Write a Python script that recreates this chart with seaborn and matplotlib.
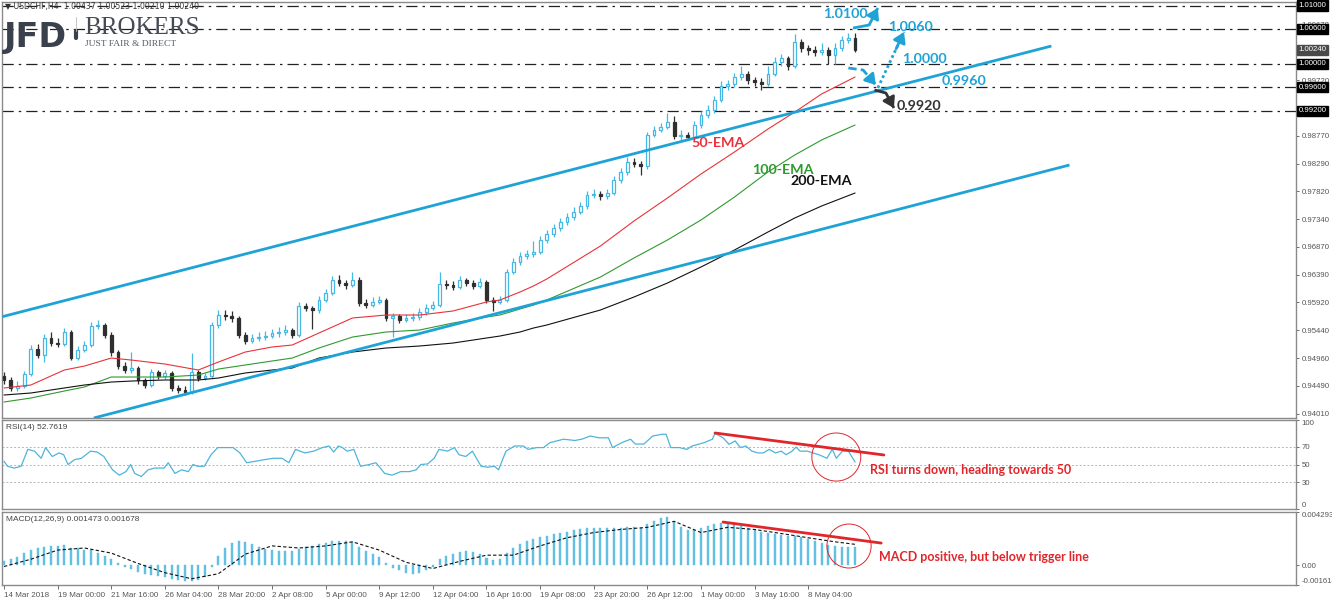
import numpy as np
import pandas as pd
import matplotlib
matplotlib.use("Agg")
import matplotlib.pyplot as plt
import seaborn as sns
from matplotlib.patches import Ellipse
from matplotlib.lines import Line2D

sns.set_theme(style="white")
plt.rcParams['font.family'] = ['Liberation Sans', 'DejaVu Sans']

W, H = 1332, 607
def fx(px):
    return px / W
def fy(py):
    return 1 - py / H

# ------------------------------------------------------------------ data
x_tick_pos = [0, 8, 16, 24, 32, 40, 48, 56, 64, 72, 80, 88, 96, 104, 112, 120]
x_tick_labels = ["14 Mar 2018", "19 Mar 00:00", "21 Mar 16:00", "26 Mar 04:00",
                 "28 Mar 20:00", "2 Apr 08:00", "5 Apr 00:00", "9 Apr 12:00",
                 "12 Apr 04:00", "16 Apr 16:00", "19 Apr 08:00", "23 Apr 20:00",
                 "26 Apr 12:00", "1 May 00:00", "3 May 16:00", "8 May 04:00"]

first_open = 0.94650
closes = [0.94585, 0.94448, 0.94482, 0.94687, 0.95116, 0.95013, 0.95304, 0.95218, 0.95200, 0.95407,
          0.94960, 0.95100, 0.95184, 0.95510, 0.95527, 0.95355, 0.95064, 0.94824, 0.94756, 0.94790,
          0.94585, 0.94499, 0.94722, 0.94653, 0.94700, 0.94448, 0.94413, 0.94379, 0.94722, 0.94619,
          0.94653, 0.95527, 0.95698, 0.95681, 0.95647, 0.95355, 0.95253, 0.95304, 0.95321, 0.95338,
          0.95390, 0.95407, 0.95441, 0.95355, 0.95852, 0.95818, 0.95784, 0.95955, 0.96075, 0.96298,
          0.96250, 0.96212, 0.96300, 0.95900, 0.95869, 0.95921, 0.95955, 0.95647, 0.95680, 0.95612,
          0.95647, 0.95664, 0.95749, 0.95818, 0.95869, 0.96229, 0.96212, 0.96180, 0.96298, 0.96246,
          0.96195, 0.96263, 0.95955, 0.95920, 0.95955, 0.96435, 0.96606, 0.96709, 0.96743, 0.96777,
          0.96983, 0.97086, 0.97188, 0.97291, 0.97377, 0.97462, 0.97565, 0.97754, 0.97771, 0.97737,
          0.97788, 0.98011, 0.98148, 0.98319, 0.98285, 0.98250, 0.98781, 0.98867, 0.98918, 0.99004,
          0.98764, 0.98790, 0.98747, 0.98953, 0.99124, 0.99210, 0.99381, 0.99621, 0.99655, 0.99775,
          0.99826, 0.99724, 0.99689, 0.99660, 0.99826, 1.00032, 1.00100, 0.99963, 1.00375, 1.00272,
          1.00237, 1.00203, 1.00237, 1.00152, 1.00272, 1.00409, 1.00437, 1.00240]
highs = [0.94720, 0.94640, 0.94560, 0.94740, 0.95180, 0.95200, 0.95380, 0.95400, 0.95300, 0.95480,
         0.95440, 0.95160, 0.95260, 0.95580, 0.95620, 0.95560, 0.95400, 0.95100, 0.94900, 0.95060,
         0.94830, 0.94620, 0.94780, 0.94760, 0.94760, 0.94740, 0.94500, 0.94480, 0.95040, 0.94760,
         0.94700, 0.95580, 0.95780, 0.95790, 0.95760, 0.95680, 0.95400, 0.95380, 0.95400, 0.95420,
         0.95460, 0.95490, 0.95520, 0.95480, 0.95920, 0.95900, 0.95860, 0.96020, 0.96140, 0.96360,
         0.96380, 0.96300, 0.96440, 0.96350, 0.95980, 0.96000, 0.96020, 0.95990, 0.95740, 0.95720,
         0.95720, 0.95730, 0.95820, 0.95880, 0.95940, 0.96440, 0.96300, 0.96280, 0.96360, 0.96340,
         0.96300, 0.96330, 0.96300, 0.96000, 0.96020, 0.96480, 0.96680, 0.96780, 0.96820, 0.96960,
         0.97050, 0.97160, 0.97260, 0.97360, 0.97440, 0.97540, 0.97640, 0.97820, 0.97850, 0.97820,
         0.97860, 0.98080, 0.98220, 0.98400, 0.98380, 0.98340, 0.98840, 0.98940, 0.98990, 0.99160,
         0.99100, 0.98860, 0.98840, 0.99020, 0.99190, 0.99300, 0.99450, 0.99700, 0.99730, 0.99850,
         0.99960, 0.99880, 0.99780, 0.99760, 0.99960, 1.00120, 1.00170, 1.00140, 1.00520, 1.00420,
         1.00330, 1.00300, 1.00360, 1.00290, 1.00350, 1.00470, 1.00530, 1.00523]
lows = [0.94520, 0.94400, 0.94390, 0.94450, 0.94650, 0.94960, 0.94900, 0.95170, 0.95150, 0.95160,
        0.94920, 0.94920, 0.95060, 0.95150, 0.95450, 0.95300, 0.95000, 0.94780, 0.94700, 0.94700,
        0.94520, 0.94450, 0.94460, 0.94600, 0.94610, 0.94400, 0.94370, 0.94330, 0.94350, 0.94570,
        0.94580, 0.94620, 0.95480, 0.95620, 0.95580, 0.95300, 0.95200, 0.95220, 0.95250, 0.95270,
        0.95300, 0.95330, 0.95360, 0.95300, 0.95320, 0.95760, 0.95460, 0.95740, 0.95920, 0.96040,
        0.96200, 0.96150, 0.96180, 0.95860, 0.95820, 0.95840, 0.95880, 0.95600, 0.95330, 0.95560,
        0.95580, 0.95600, 0.95620, 0.95700, 0.95780, 0.95840, 0.96150, 0.96130, 0.96150, 0.96190,
        0.96140, 0.96160, 0.95900, 0.95760, 0.95880, 0.95920, 0.96400, 0.96560, 0.96660, 0.96700,
        0.96740, 0.96940, 0.97040, 0.97140, 0.97240, 0.97320, 0.97420, 0.97520, 0.97700, 0.97660,
        0.97690, 0.97750, 0.97960, 0.98100, 0.98230, 0.98100, 0.98200, 0.98740, 0.98830, 0.98880,
        0.98720, 0.98700, 0.98700, 0.98710, 0.98900, 0.99080, 0.99160, 0.99340, 0.99560, 0.99610,
        0.99730, 0.99650, 0.99620, 0.99560, 0.99620, 0.99790, 0.99960, 0.99900, 0.99930, 1.00210,
        1.00150, 1.00130, 1.00150, 1.00000, 1.00000, 1.00220, 1.00360, 1.00210]
opens = [first_open] + closes[:-1]

ema_idx = [0, 4, 9, 12, 16, 19, 24, 29, 32, 36, 40, 43, 47, 52, 57, 62, 67, 72, 74, 77,
           79, 81, 89, 94, 99, 104, 109, 114, 118, 122, 127]
ema50 = [0.94448, 0.94499, 0.94756, 0.94824, 0.94961, 0.94927, 0.94859, 0.94756, 0.94893, 0.95064,
         0.95150, 0.95184, 0.95390, 0.95647, 0.95698, 0.95698, 0.95767, 0.95921, 0.95955, 0.96092,
         0.96195, 0.96315, 0.96880, 0.97308, 0.97702, 0.98113, 0.98490, 0.98884, 0.99175, 0.99484,
         0.99775]
ema100 = [0.94208, 0.94276, 0.94396, 0.94465, 0.94636, 0.94636, 0.94636, 0.94670, 0.94773, 0.94842,
          0.94910, 0.94961, 0.95133, 0.95321, 0.95407, 0.95441, 0.95561, 0.95664, 0.95698, 0.95801,
          0.95869, 0.95955, 0.96349, 0.96674, 0.96983, 0.97325, 0.97719, 0.98148, 0.98439, 0.98696,
          0.98953]
ema200 = [0.94328, 0.94362, 0.94448, 0.94499, 0.94550, 0.94567, 0.94585, 0.94585, 0.94619, 0.94705,
          0.94756, 0.94790, 0.94961, 0.95064, 0.95133, 0.95167, 0.95218, 0.95304, 0.95338, 0.95407,
          0.95475, 0.95527, 0.95784, 0.96006, 0.96246, 0.96520, 0.96811, 0.97120, 0.97360, 0.97565,
          0.97788]

rsi_pos = [0, 0.55, 1.55, 2.55, 3.55, 4.55, 5.55, 6.2, 7.2, 8.2, 8.9, 9.55, 10.55, 11.55, 12.9, 13.9,
           14.9, 16.2, 17.2, 18.2, 18.9, 19.5, 20.5, 21.5, 22.5, 23.9, 24.5, 25.5, 26.5, 27.5, 28.2,
           28.9, 29.9, 30.9, 31.9, 32.9, 34.2, 35.2, 36.2, 37.5, 38.9, 40.2, 41.5, 42.5, 43.5, 44.9,
           46.2, 47.5, 48.5, 49.2, 49.9, 50.5, 51.2, 52.2, 53.2, 54.5, 55.5, 56.8, 57.9, 59.2, 60.5,
           61.5, 62.2, 63.2, 64.2, 64.9, 66.2, 67.2, 67.9, 68.9, 69.9, 70.5, 71.2, 72.2, 73.2, 73.8,
           74.9, 76.2, 77.5, 78.2, 79.5, 80.5, 81.5, 82.5, 83.5, 85.2, 86.2, 87.5, 88.8, 90.2, 90.8,
           92.2, 93.5, 94.2, 95.5, 96.8, 98.2, 98.8, 99.5, 100.8, 101.9, 102.7, 104.5, 105.7, 106.1,
           107.3, 108.2, 109.1, 109.9, 110.7, 111.6, 112.5, 113.3, 114.2, 115.1, 116.0, 116.7, 117.6,
           118.2, 118.8, 119.9, 120.7, 121.6, 122.8, 123.6, 124.2, 125.1, 126.0, 127.0]
rsi_val = [53.6, 47.9, 46, 48, 67, 65, 57, 69, 59, 63, 61, 50, 55.5, 57, 65, 64,
           59, 44, 38, 42, 50, 40, 36.5, 44, 46, 46, 52, 40, 44, 42, 50,
           48, 48, 61, 69, 69, 69, 63, 52, 53.6, 55.5, 57, 57, 52, 67, 63,
           65, 69, 70.8, 64, 70.8, 69, 65, 67, 48, 50, 52, 40, 38, 42, 42,
           44, 50, 50.6, 57, 67, 65, 69, 61, 59, 65, 57, 48, 47, 48, 44,
           65, 70.8, 70.8, 67, 69, 69, 74.6, 76.5, 78.4, 77, 78.4, 82, 80, 80, 69,
           74.6, 78.4, 73, 73, 82, 84, 84, 69, 69, 67, 70.8, 74.6, 78.4, 85,
           80, 72.7, 76.5, 69, 70.8, 65, 63, 63, 67, 63, 65, 61, 65,
           69.6, 65, 65, 63, 61, 57, 67, 57, 65, 65, 52.8]

macd_hist = [0.0003, 0.00047, 0.00063, 0.00097, 0.00121, 0.00138, 0.00146, 0.00155, 0.00155, 0.00163,
             0.00138, 0.00138, 0.00121, 0.00121, 0.00097, 0.00072, 0.00047, 0.00013, -0.00012, -0.00028,
             -0.00053, -0.0007, -0.00078, -0.00087, -0.00095, -0.00111, -0.0012, -0.00128, -0.00128, -0.0012,
             -0.00095, -0.00012, 0.00072, 0.00138, 0.0018, 0.00196, 0.00188, 0.00171, 0.00146, 0.0013,
             0.00121, 0.00113, 0.00113, 0.00113, 0.0013, 0.00146, 0.00155, 0.00171, 0.0018, 0.00196,
             0.00196, 0.00196, 0.00188, 0.00146, 0.00113, 0.00088, 0.00063, 0.00013, -0.0002, -0.00037,
             -0.00062, -0.0007, -0.00062, -0.00037, -0.00012, 0.00047, 0.00072, 0.00088, 0.00105, 0.00113,
             0.00105, 0.00088, 0.00055, 0.00038, 0.00047, 0.00097, 0.00138, 0.00171, 0.00196, 0.00213,
             0.0023, 0.00238, 0.00255, 0.00263, 0.00271, 0.0028, 0.00288, 0.00296, 0.00296, 0.00296,
             0.00296, 0.00296, 0.00296, 0.00305, 0.00305, 0.00296, 0.00329, 0.00354, 0.00379, 0.00388,
             0.00346, 0.00305, 0.0028, 0.0028, 0.00296, 0.00313, 0.00329, 0.00338, 0.00338, 0.00329,
             0.00313, 0.00296, 0.0028, 0.00271, 0.00263, 0.00255, 0.00246, 0.00238, 0.00238, 0.0023,
             0.00213, 0.00196, 0.0018, 0.00163, 0.00155, 0.00146, 0.00146, 0.001473]
sig_idx = [0, 4, 8, 12, 16, 20, 24, 28, 32, 36, 40, 44, 48, 52, 56, 60, 64, 68, 72, 76,
           80, 84, 88, 92, 96, 100, 104, 108, 112, 116, 120, 124, 127]
sig_val = [-0.00012, 0.00047, 0.00121, 0.00138, 0.00097, 0.00013, -0.00062, -0.00111, -0.0007, 0.00088,
           0.00155, 0.00138, 0.00155, 0.00188, 0.00121, 0.00022, -0.00028, 0.0003, 0.0008, 0.0008,
           0.00155, 0.00221, 0.00263, 0.00288, 0.00305, 0.00354, 0.00263, 0.00305, 0.00288, 0.00255,
           0.00221, 0.00188, 0.001678]

main_ticks = [0.94010, 0.94490, 0.94960, 0.95440, 0.95920, 0.96390, 0.96870, 0.97340,
              0.97820, 0.98290, 0.98770, 0.99720, 1.00678]
level_lines = [1.01000, 1.00600, 1.00000, 0.99600, 0.99200]
box_levels = [1.01000, 1.00600, 1.00240, 1.00000, 0.99600, 0.99200]
current_price = 1.00240

# ------------------------------------------------------------------ style
BLUE = '#1fa3d6'
CANDLE_UP = '#45b8e6'
CANDLE_DN = '#2f2f2f'
RSI_C = '#4fb4da'
HIST_C = '#62c0e2'
RED = '#e0262b'
SPINE = '#8a8a8a'
TICKC = '#555555'
TICK_FS = 5.6

fig = plt.figure(figsize=(13.32, 6.07), dpi=100)
fig.patch.set_facecolor('white')

XL = (-0.3, 192.8)
ax = fig.add_axes([fx(2), fy(418), fx(1294), 416 / H])
ax_rsi = fig.add_axes([fx(2), fy(509), fx(1294), 89 / H])
ax_macd = fig.add_axes([fx(2), fy(585), fx(1294), 73 / H])

for a in (ax, ax_rsi, ax_macd):
    a.set_facecolor('white')
    a.set_xlim(*XL)
    for s in a.spines.values():
        s.set_color(SPINE)
        s.set_linewidth(1.0)
    a.yaxis.tick_right()
    a.tick_params(axis='y', which='both', length=2.5, width=0.6, colors=TICKC,
                  labelsize=TICK_FS, pad=1.5, direction='out')
    a.grid(False)

# ------------------------------------------------------------------ main panel
ax.set_ylim(0.93934, 1.01060)
o = np.array(opens)
c = np.array(closes)
h = np.array(highs)
l = np.array(lows)
xi = np.arange(len(c))
up = c >= o
ax.vlines(xi[up], l[up], h[up], color=CANDLE_UP, lw=0.9, zorder=3)
ax.vlines(xi[~up], l[~up], h[~up], color=CANDLE_DN, lw=0.9, zorder=3)
body_up = np.maximum(c[up] - o[up], 0.00004)
body_dn = np.maximum(o[~up] - c[~up], 0.00004)
ax.bar(xi[up], body_up, bottom=o[up], width=0.42, color='white', edgecolor=CANDLE_UP,
       linewidth=0.9, zorder=4)
ax.bar(xi[~up], body_dn, bottom=c[~up], width=0.42, color=CANDLE_DN, edgecolor=CANDLE_DN,
       linewidth=0.9, zorder=4)

ema_df = pd.DataFrame({'idx': ema_idx, 'ema50': ema50, 'ema100': ema100, 'ema200': ema200})
sns.lineplot(data=ema_df, x='idx', y='ema50', ax=ax, color='#e8333a', lw=0.8, zorder=5)
sns.lineplot(data=ema_df, x='idx', y='ema100', ax=ax, color='#2f9a2f', lw=0.8, zorder=5)
sns.lineplot(data=ema_df, x='idx', y='ema200', ax=ax, color='#111111', lw=0.8, zorder=5)

for lv in level_lines:
    ax.axhline(lv, color='#222222', lw=0.9, ls=(0, (9, 4, 2, 4)), zorder=2)

# channel lines
ax.plot([-0.45, 156.3], [0.95664, 1.00306], color=BLUE, lw=2.0, zorder=6, solid_capstyle='butt')
ax.plot([13.4, 159.0], [0.93934, 0.98268], color=BLUE, lw=2.0, zorder=6, solid_capstyle='butt')

ax.set_yticks(main_ticks)
ax.set_yticklabels([f"{v:.5f}" for v in main_ticks])
ax.set_xticks([])
ax.set_ylabel('')
ax.set_xlabel('')

for lv in box_levels:
    fc = '#4a4a4a' if lv == current_price else 'black'
    ax.text(1.0018, lv, f"{lv:.5f}", transform=ax.get_yaxis_transform(), fontsize=TICK_FS,
            color='white', va='center', ha='left', zorder=20, clip_on=False,
            bbox=dict(boxstyle='square,pad=0.2', fc=fc, ec=fc))

def poly_arrow(a, pts, color, lw, ls='-', ms=11):
    xs = [p[0] for p in pts]
    ys = [p[1] for p in pts]
    a.plot(xs, ys, color=color, lw=lw, ls=ls, zorder=8, solid_capstyle='butt')
    x0, y0 = pts[-2]
    x1, y1 = pts[-1]
    xt = x0 + 0.7 * (x1 - x0)
    yt = y0 + 0.7 * (y1 - y0)
    a.annotate('', xy=(x1, y1), xytext=(xt, yt),
               arrowprops=dict(arrowstyle='-|>,head_length=0.55,head_width=0.35', color=color,
                               lw=lw, shrinkA=0, shrinkB=0, mutation_scale=ms), zorder=9)

poly_arrow(ax, [(126.7, 1.00614), (129.1, 1.00666), (130.4, 1.00957)], BLUE, 2.0)
poly_arrow(ax, [(130.4, 0.99587), (134.3, 1.00546)], BLUE, 2.0, ls=(0, (1, 1)))
poly_arrow(ax, [(126.0, 0.99929), (128.2, 0.99895), (130.1, 0.99638)], BLUE, 2.0, ls=(0, (3, 1.5)))
poly_arrow(ax, [(129.9, 0.99552), (131.6, 0.99501), (132.8, 0.99244)], '#333333', 2.0)

lab_kw = dict(fontsize=10.3, fontweight='bold', family=['Lato', 'DejaVu Sans'], zorder=10)
ax.text(125.6, 1.00854, '1.0100', color=BLUE, ha='center', va='center', **lab_kw)
ax.text(135.2, 1.00640, '1.0060', color=BLUE, ha='center', va='center', **lab_kw)
ax.text(137.3, 1.00083, '1.0000', color=BLUE, ha='center', va='center', **lab_kw)
ax.text(143.3, 0.99700, '0.9960', color=BLUE, ha='center', va='center', **lab_kw)
ax.text(136.6, 0.99278, '0.9920', color='#333333', ha='center', va='center', **lab_kw)
ax.text(106.6, 0.98644, '50-EMA', color='#e8333a', ha='center', va='center', **lab_kw)
ax.text(116.3, 0.98182, '100-EMA', color='#2f9a2f', ha='center', va='center', **lab_kw)
ax.text(121.9, 0.97994, '200-EMA', color='#111111', ha='center', va='center', **lab_kw)

# ------------------------------------------------------------------ RSI panel
ax_rsi.set_ylim(0, 100)
for lv in (70, 50, 30):
    ax_rsi.axhline(lv, color='#b5b5b5', lw=0.7, ls=(0, (2, 2)), zorder=1)
rsi_df = pd.DataFrame({'pos': rsi_pos, 'rsi': rsi_val})
sns.lineplot(data=rsi_df, x='pos', y='rsi', ax=ax_rsi, color=RSI_C, lw=0.9, zorder=3)
ax_rsi.set_yticks([100, 70, 50, 30, 0])
ax_rsi.set_yticklabels(['100', '70', '50', '30', '0'])
lbls = ax_rsi.get_yticklabels()
lbls[0].set_va('top')
lbls[-1].set_va('bottom')
ax_rsi.set_xticks([])
ax_rsi.set_xlabel('')
ax_rsi.set_ylabel('')
ax_rsi.text(0.003, 0.95, 'RSI(14) 52.7619', transform=ax_rsi.transAxes, fontsize=6.0,
            color='#444444', va='top', ha='left')
ax_rsi.plot([106.1, 131.3], [85.4, 60.7], color=RED, lw=2.0, zorder=6)
ax_rsi.add_patch(Ellipse((124.2, 58.4), width=7.3, height=54, fill=False, ec=RED, lw=0.7, zorder=7))
ax_rsi.text(129.3, 43.8, 'RSI turns down, heading towards 50', color=RED, fontsize=9,
            fontweight='bold', family=['Lato', 'DejaVu Sans'], va='center', ha='left')

# ------------------------------------------------------------------ MACD panel
ax_macd.set_ylim(-0.001614, 0.004293)
ax_macd.bar(xi, macd_hist, width=0.3, color=HIST_C, edgecolor=HIST_C, lw=0.3, zorder=3)
sig_df = pd.DataFrame({'idx': sig_idx, 'sig': sig_val})
sns.lineplot(data=sig_df, x='idx', y='sig', ax=ax_macd, color='#111111', lw=0.8,
             linestyle=(0, (3, 2)), zorder=4)
ax_macd.set_yticks([0.004293, 0.0, -0.001614])
ax_macd.set_yticklabels(['0.004293', '0.00', '-0.001614'])
ml = ax_macd.get_yticklabels()
ml[0].set_va('top')
ml[-1].set_va('bottom')
ax_macd.set_ylabel('')
ax_macd.set_xlabel('')
ax_macd.text(0.003, 0.95, 'MACD(12,26,9) 0.001473 0.001678', transform=ax_macd.transAxes,
             fontsize=6.0, color='#444444', va='top', ha='left')
ax_macd.plot([107.3, 130.9], [0.00348, 0.00178], color=RED, lw=2.0, zorder=6)
ax_macd.add_patch(Ellipse((126.1, 0.00154), width=6.6, height=0.00356, fill=False, ec=RED,
                          lw=0.7, zorder=7))
ax_macd.text(130.6, 0.00065, 'MACD positive, but below trigger line', color=RED, fontsize=9,
             fontweight='bold', family=['Lato', 'DejaVu Sans'], va='center', ha='left')

ax_macd.set_xticks(x_tick_pos)
ax_macd.set_xticklabels(x_tick_labels)
ax_macd.tick_params(axis='x', length=3, width=0.6, colors=TICKC, labelsize=5.8, pad=2,
                    direction='out', bottom=True)
for t in ax_macd.get_xticklabels():
    t.set_ha('left')
ax_macd.set_xlim(*XL)

# ------------------------------------------------------------------ header & logo
fig.text(fx(5), fy(7), '\u25bc USDCHF,H4  1.00437 1.00523 1.00210 1.00240', fontsize=5.6,
         color='#333333', va='center', ha='left', family=['DejaVu Sans'])
fig.text(fx(4), fy(47), 'JFD', fontsize=24, fontweight='bold', color='#3a404c',
         va='baseline', ha='left', family=['DejaVu Sans'])
fig.add_artist(Line2D([fx(76), fx(76)], [fy(31), fy(38)], color='#3a404c', lw=3))
fig.add_artist(Line2D([fx(76), fx(76)], [fy(17), fy(31)], color='#bbbbbb', lw=0.6))
fig.text(fx(84), fy(34), 'BROKERS', fontsize=18, color='#454a55', va='baseline', ha='left',
         family=['Liberation Serif', 'DejaVu Serif'])
fig.text(fx(85), fy(44), 'JUST FAIR & DIRECT', fontsize=6.8, color='#555a63', va='center',
         ha='left', family=['Liberation Serif', 'DejaVu Serif'])

fig.savefig('out.png', dpi=100, facecolor='white')
